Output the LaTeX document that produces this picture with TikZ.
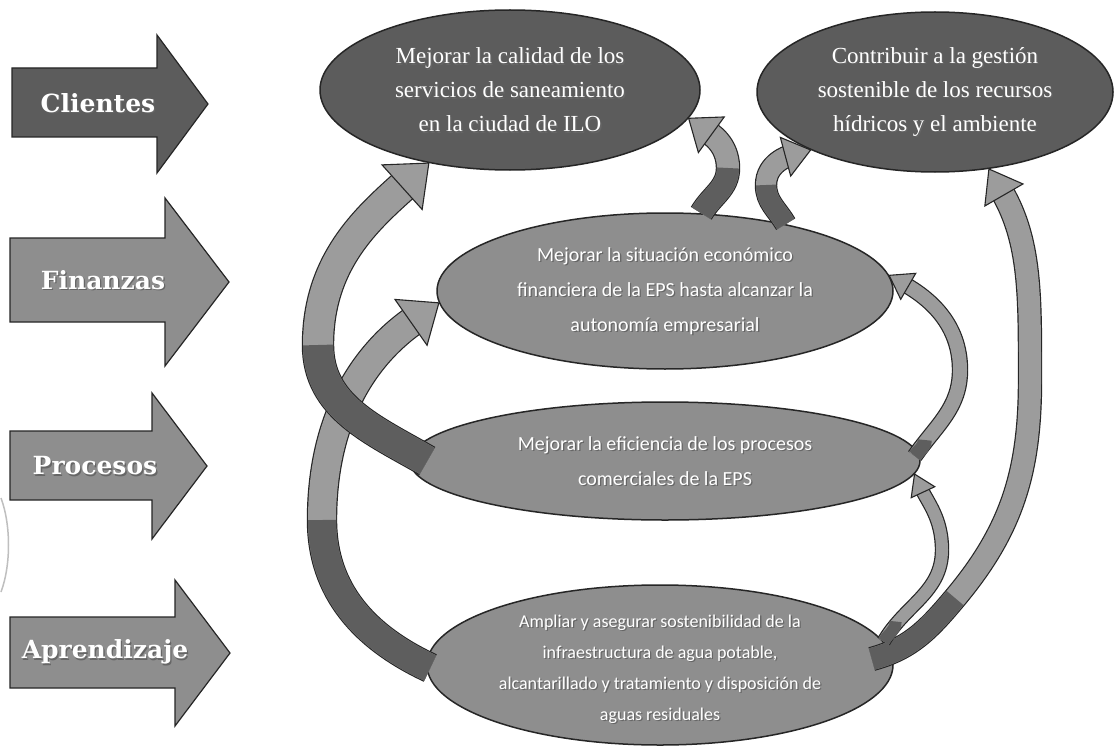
\documentclass[tikz,border=0pt]{standalone}
\usepackage{fontspec}
\setmainfont{Liberation Serif}
\newfontfamily\calib{Carlito}
\newfontfamily\lblfont{DejaVu Serif}
\usetikzlibrary{shapes.geometric,calc}

\definecolor{dk}{HTML}{5C5C5C}
\definecolor{lt}{HTML}{8E8E8E}
\definecolor{rbl}{HTML}{9C9C9C}
\definecolor{rbd}{HTML}{5E5E5E}

\tikzset{
  ell/.style={ellipse, draw=black!85, line width=1.5pt, inner sep=0pt},
  elldark/.style={ell, fill=dk},
  elllight/.style={ell, fill=lt},
  serif text/.style={align=center, text=white, font=\fontsize{23}{34}\selectfont},
  sans text/.style={align=center, text=white, font=\calib\fontsize{20}{35}\selectfont},
  small sans text/.style={align=center, text=white, font=\calib\fontsize{18}{31}\selectfont},
  blockarrow/.style={draw=black!85, line width=1.2pt, line join=miter},
  lbltext/.style={text=white, font=\lblfont\bfseries\fontsize{25}{30}\selectfont},
  rbhead/.style={fill=rbl, draw=black!85, line width=1.1pt, line join=miter},
}

% text with a soft shadow: name, position, style, text
\newcommand\stxt[4]{%
  \node[#3, text=black!60, xshift=1.3pt, yshift=-1.3pt] at #2 {#4};
  \node[#3] (#1) at #2 {#4};}

% curved block arrow: width, head length, head width, full path, dark part, tip, angle back
\newcommand\ribbon[7]{%
  \draw[draw=black!85, line width=#1+2.4pt, shorten >=#2-4pt] #4;
  \draw[draw=rbl, line width=#1, shorten >=#2-4pt] #4;
  \draw[draw=rbd, line width=#1] #5;
  \filldraw[rbhead, shift={#6}, rotate=#7] (0,0) -- (#2,#3/2) -- (#2,-#3/2) -- cycle;}

\begin{document}
\begin{tikzpicture}[x=1pt,y=1pt]
\fill[white] (0,0) rectangle (1116,-749);
\useasboundingbox (0,0) rectangle (1116,-749);

% scan artefact at the left edge
\draw[black!25, line width=1.5pt] (1,-498) .. controls (11,-525) and (11,-565) .. (1,-592);

% perspective arrows
\filldraw[blockarrow, fill=dk] (12,-68) -- (157,-68) -- (157,-35) -- (208,-104) -- (157,-173) -- (157,-137) -- (12,-137) -- cycle;
\filldraw[blockarrow, fill=lt] (10,-238) -- (165,-238) -- (165,-198) -- (229,-282) -- (165,-366) -- (165,-322) -- (10,-322) -- cycle;
\filldraw[blockarrow, fill=lt] (10,-431) -- (152,-431) -- (152,-393) -- (207,-466) -- (152,-539) -- (152,-500) -- (10,-500) -- cycle;
\filldraw[blockarrow, fill=lt] (10,-617) -- (175,-617) -- (175,-580) -- (230,-653) -- (175,-726) -- (175,-688) -- (10,-688) -- cycle;
\stxt{lc}{(98,-103)}{lbltext}{Clientes}
\stxt{lf}{(103,-280)}{lbltext}{Finanzas}
\stxt{lp}{(95,-466)}{lbltext}{Procesos}
\stxt{la}{(105,-652)}{lbltext}{Aprendizaje}

% objectives
\node[elldark, minimum width=380pt, minimum height=160pt] (e1) at (510,-90) {};
\node[elldark, minimum width=356pt, minimum height=160pt] (e2) at (935,-92) {};
\node[elllight, minimum width=456pt, minimum height=156pt] (e3) at (665,-291) {};
\node[elllight, minimum width=510pt, minimum height=118pt] (e4) at (665,-461) {};
\node[elllight, minimum width=466pt, minimum height=160pt] (e5) at (660,-665) {};

\stxt{t1}{(e1)}{serif text}{Mejorar la calidad de los\\servicios de saneamiento\\en la ciudad de ILO}
\stxt{t2}{(e2)}{serif text}{Contribuir a la gestión\\sostenible de los recursos\\hídricos y el ambiente}
\stxt{t3}{(e3)}{sans text}{Mejorar la situación económico\\financiera de la EPS hasta alcanzar la\\autonomía empresarial}
\stxt{t4}{(e4)}{sans text}{Mejorar la eficiencia de los procesos\\comerciales de la EPS}
\stxt{t5}{($(e5)+(0,-4)$)}{small sans text}{Ampliar y asegurar sostenibilidad de la\\infraestructura de agua potable,\\alcantarillado y tratamiento y disposición de\\aguas residuales}

% way points of the curved arrows
\coordinate (a0) at ($(e4.west)+(18,0)$);
\coordinate (a1) at (318,-345);
\coordinate (b0) at ($(e5.west)+(4,-3)$);
\coordinate (b1) at (322,-520);
\coordinate (c1) at (728,-168);
\coordinate (d1) at (766,-185);
\coordinate (r0) at ($(e5.east)+(-22,6)$);
\coordinate (r1) at (955,-598);
\coordinate (r2) at (1030,-380);
\coordinate (f0) at ($(e4.east)+(-6,5)$);
\coordinate (f1) at (960,-370);
\coordinate (g1) at (942,-550);

% left side
\ribbon{28pt}{34pt}{56pt}
  {(b0) to[out=155,in=-90] (b1) to[out=90,in=215] (e3.183)}
  {(b0) to[out=155,in=-90] (b1)}
  {(e3.183)}{215}
\ribbon{30pt}{36pt}{60pt}
  {(a0) to[out=150,in=-90] (a1) to[out=90,in=222] (e1.222)}
  {(a0) to[out=150,in=-90] (a1)}
  {(e1.222)}{222}
% top
\ribbon{22pt}{28pt}{44pt}
  {(e3.65) to[out=60,in=-90] (c1) to[out=90,in=-36] (e1.351)}
  {(e3.65) to[out=60,in=-90] (c1)}
  {(e1.351)}{-36}
\ribbon{20pt}{26pt}{40pt}
  {(e3.29) to[out=120,in=-90] (d1) to[out=90,in=195] (e2.205)}
  {(e3.29) to[out=120,in=-90] (d1)}
  {(e2.205)}{195}
% right side
\ribbon{22pt}{30pt}{44pt}
  {(r0) to[out=15,in=230] (r1) to[out=50,in=-90] (r2) to[out=90,in=-60] (e2.305)}
  {(r0) to[out=15,in=230] (r1)}
  {(e2.305)}{-60}
\ribbon{12pt}{20pt}{26pt}
  {(e5.6) to[out=60,in=-90] (g1) to[out=90,in=-65] (e4.357)}
  {(e5.6) to[out=60,in=-90] ($(e5.6)+(12,20)$)}
  {(e4.357)}{-65}
\ribbon{14pt}{22pt}{30pt}
  {(f0) to[out=55,in=-90] (f1) to[out=90,in=-30] (e3.4)}
  {(f0) to[out=55,in=-90] ($(f0)+(10,16)$)}
  {(e3.4)}{-30}
\end{tikzpicture}
\end{document}
